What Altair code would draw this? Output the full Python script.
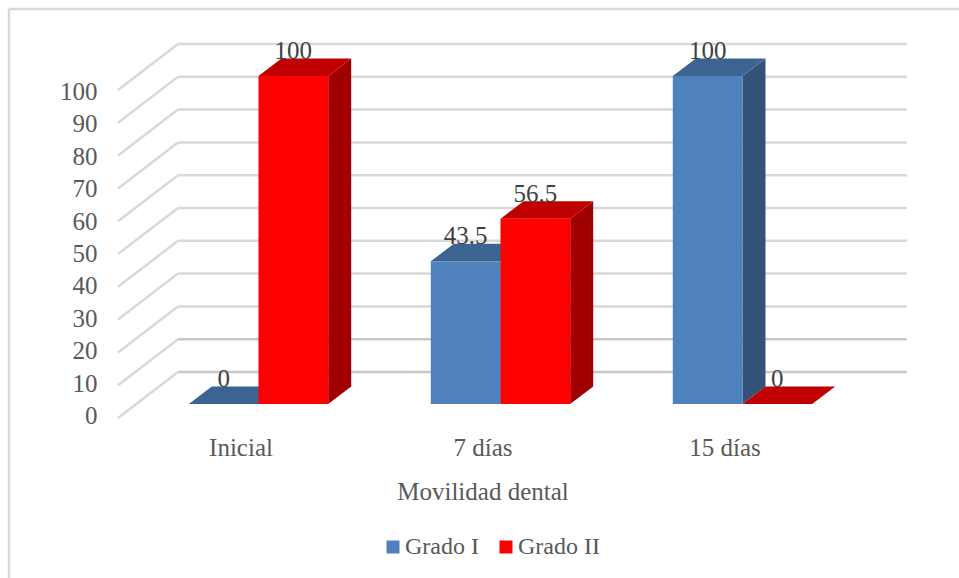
import altair as alt
import pandas as pd

categories = ["Inicial", "7 días", "15 días"]
grado_i = [0, 43.5, 100]
grado_ii = [100, 56.5, 0]
series_names = ["Grado I", "Grado II"]
y_ticks = list(range(0, 101, 10))

WIDTH, HEIGHT = 959, 578
FONT = "Liberation Serif"
FONT_SIZE = 25
TEXT = "#595959"
LABEL = "#404040"
GRID = "#D9D9D9"
GRID_LOW = "#C8C8C8"

# Projection of the pseudo-3D box, in data units
PX_PER_GROUP = 242.0
PX_PER_VALUE = 3.28
BAR_W = 69.7 / PX_PER_GROUP
DEPTH_X = 23.0 / PX_PER_GROUP
DEPTH_Y = 17.5 / PX_PER_VALUE
WALL_LEFT = -80.5 / PX_PER_GROUP
WALL_RIGHT = 648.5 / PX_PER_GROUP
FLOOR_LEFT = -140.5 / PX_PER_GROUP
WALL_LIFT = 32.0 / PX_PER_VALUE
FLOOR_DROP = 14.0 / PX_PER_VALUE

x_scale = alt.Scale(domain=[-258.5 / PX_PER_GROUP, (WIDTH - 258.5) / PX_PER_GROUP], nice=False, zero=False)
y_scale = alt.Scale(domain=[(404 - HEIGHT) / PX_PER_VALUE, 404 / PX_PER_VALUE], nice=False, zero=False)
X = alt.X("x:Q", scale=x_scale, axis=None)
Y = alt.Y("y:Q", scale=y_scale, axis=None, stack=None)

# One record per bar, with its front-face edges
bars = []
for s, values in enumerate([grado_i, grado_ii]):
    for i, v in enumerate(values):
        left = i + (s - 1) * BAR_W
        bars.append(dict(cat=categories[i], serie=series_names[s], value=v,
                         xl=left, xr=left + BAR_W, xc=left + BAR_W / 2, base=0))
bars = pd.DataFrame(bars)

side_rows, top_rows = [], []
for b in bars.to_dict("records"):
    key = b["serie"] + b["cat"]
    v, xl, xr, ser = b["value"], b["xl"], b["xr"], b["serie"]
    side_rows += [dict(key=key, serie=ser, x=xr, y=v, y0=0.0),
                  dict(key=key, serie=ser, x=xr + DEPTH_X, y=v + DEPTH_Y, y0=DEPTH_Y)]
    # Top face as a vertical band: upper edge steps back, lower edge follows the slant on the right
    top_rows += [dict(key=key, serie=ser, x=xl, y=v, y0=v),
                 dict(key=key, serie=ser, x=xl + DEPTH_X, y=v + DEPTH_Y, y0=v),
                 dict(key=key, serie=ser, x=xr, y=v + DEPTH_Y, y0=v),
                 dict(key=key, serie=ser, x=xr + DEPTH_X, y=v + DEPTH_Y, y0=v + DEPTH_Y)]
sides = pd.DataFrame(side_rows)
tops = pd.DataFrame(top_rows)

grid = pd.DataFrame(
    [dict(x=WALL_LEFT, x2=WALL_RIGHT, y=t + WALL_LIFT, y2=t + WALL_LIFT) for t in y_ticks if t > 10]
    + [dict(x=FLOOR_LEFT, x2=WALL_LEFT, y=t - FLOOR_DROP, y2=t + WALL_LIFT) for t in y_ticks]
)
grid_low = pd.DataFrame(
    [dict(x=WALL_LEFT, x2=WALL_RIGHT, y=t + WALL_LIFT, y2=t + WALL_LIFT) for t in y_ticks if t <= 10]
)
grid_layer = alt.Chart(grid).mark_rule(color=GRID, strokeWidth=2.5).encode(x=X, x2="x2:Q", y=Y, y2="y2:Q")
grid_low_layer = alt.Chart(grid_low).mark_rule(color=GRID_LOW, strokeWidth=2.5).encode(x=X, x2="x2:Q", y=Y, y2="y2:Q")


def face_layer(table, serie, colour):
    return alt.Chart(table[table.serie == serie]).mark_area(color=colour, orient="vertical").encode(
        x=X, y=Y, y2="y0:Q", detail="key:N")


front = alt.Chart(bars).mark_bar().encode(
    x=alt.X("xl:Q", scale=x_scale, axis=None),
    x2="xr:Q",
    y=alt.Y("value:Q", scale=y_scale, axis=None, stack=None),
    y2="base:Q",
    color=alt.Color(
        "serie:N",
        scale=alt.Scale(domain=series_names, range=["#4F81BD", "#FF0000"]),
        legend=alt.Legend(
            title=None, orient="none", legendX=381, legendY=535, direction="horizontal",
            symbolType="square", symbolSize=169, symbolStrokeWidth=0, labelFont=FONT, labelFontSize=24,
            labelColor=TEXT, columnPadding=15, labelOffset=0, padding=0,
        ),
    ),
)

labels = alt.Chart(bars).mark_text(font=FONT, fontSize=FONT_SIZE, color=LABEL, dy=-25, baseline="middle").encode(
    x=alt.X("xc:Q", scale=x_scale, axis=None),
    y=alt.Y("value:Q", scale=y_scale, axis=None, stack=None),
    text=alt.Text("value:Q", format="~r"),
)

plot = alt.layer(
    grid_layer, grid_low_layer,
    face_layer(sides, "Grado I", "#32527A"), face_layer(tops, "Grado I", "#3C6491"),
    face_layer(sides, "Grado II", "#A00000"), face_layer(tops, "Grado II", "#C00000"),
    front, labels,
)

# Invisible layer carrying the category and value axes on their own scales
axis_data = pd.DataFrame({"cat": categories, "tick": y_ticks[:3]})
axes = alt.Chart(axis_data).mark_point(opacity=0).encode(
    x=alt.X("cat:N", sort=categories, title="Movilidad dental",
            scale=alt.Scale(type="point", domain=categories, range=[240.5, 724.5], padding=0),
            axis=alt.Axis(orient="bottom", offset=-143, domain=False, ticks=False, labelAngle=0,
                          labelFont=FONT, labelFontSize=FONT_SIZE, labelColor=TEXT, labelPadding=0,
                          labelFontWeight="normal", titleFont=FONT, titleFontSize=FONT_SIZE, titleColor=TEXT,
                          titleFontWeight="normal", titlePadding=19)),
    y=alt.Y("tick:Q", title=None,
            scale=alt.Scale(domain=[0, 100], range=[415.5, 91.5], nice=False),
            axis=alt.Axis(orient="left", offset=-97, values=y_ticks, grid=False, domain=False, ticks=False,
                          labelFont=FONT, labelFontSize=FONT_SIZE, labelColor=TEXT, labelPadding=0)),
)

# Outer frame of the chart, running off the right and bottom edges
frame_h = alt.Chart(pd.DataFrame({"a": [0]})).mark_rule(color=GRID, strokeWidth=2.5).encode(
    x=alt.value(9), x2=alt.value(WIDTH), y=alt.value(9))
frame_v = alt.Chart(pd.DataFrame({"a": [0]})).mark_rule(color=GRID, strokeWidth=2.5).encode(
    x=alt.value(9), y=alt.value(9), y2=alt.value(HEIGHT))

chart = (
    alt.layer(frame_h, frame_v, plot, axes)
    .resolve_scale(x="independent", y="independent")
    .properties(width=WIDTH, height=HEIGHT, padding=0, autosize=alt.AutoSizeParams(type="none"), background="white")
    .configure_view(stroke=None)
)

chart.save("out.html", embed_options={"renderer": "svg", "actions": False})
